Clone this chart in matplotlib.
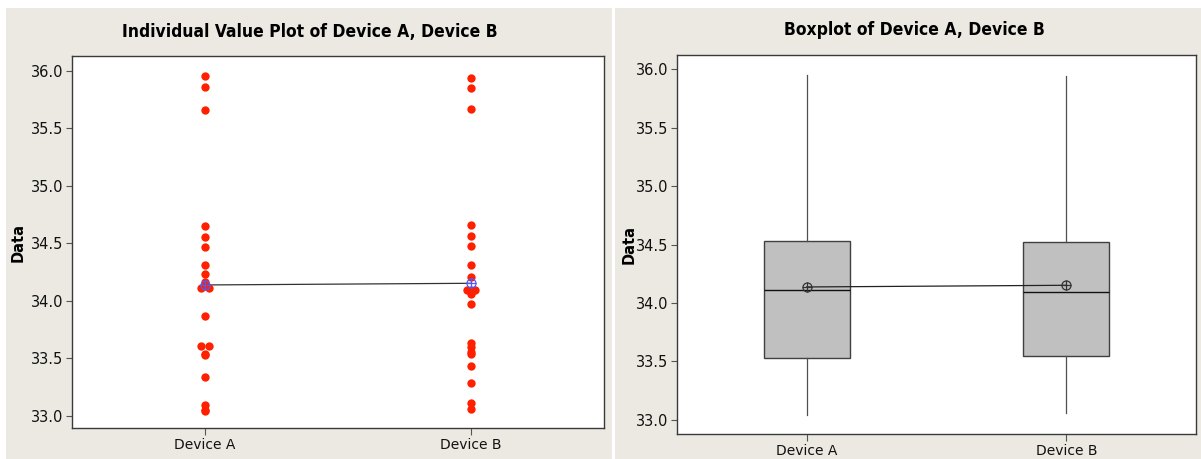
import matplotlib
matplotlib.use("Agg")
import matplotlib.pyplot as plt
from matplotlib.patches import Rectangle
import numpy as np

# Measurements for the two devices
devices = ["Device A", "Device B"]
device_a = [33.04, 33.05, 33.09, 33.34, 33.53, 33.54, 33.61, 33.61, 33.87, 34.11,
            34.11, 34.16, 34.23, 34.31, 34.47, 34.55, 34.65, 35.66, 35.86, 35.95]
device_b = [33.06, 33.11, 33.28, 33.43, 33.54, 33.55, 33.60, 33.63, 33.97, 34.06,
            34.09, 34.09, 34.09, 34.21, 34.31, 34.48, 34.56, 34.66, 35.67, 35.85, 35.94]
yticks = [33.0, 33.5, 34.0, 34.5, 35.0, 35.5, 36.0]

bg = "#ECE9E2"
dot_red = "#FF2000"
spine_col = "#3a3a3a"

plt.rcParams['font.family'] = ['DejaVu Sans']

fig = plt.figure(figsize=(12.01, 4.59), dpi=100, facecolor="white")
# two beige graph windows
fig.patches.append(Rectangle((6 / 1201, 0), 606 / 1201, 451 / 459,
                             transform=fig.transFigure, facecolor=bg, edgecolor="none", zorder=-5))
fig.patches.append(Rectangle((615 / 1201, 0), 586 / 1201, 451 / 459,
                             transform=fig.transFigure, facecolor=bg, edgecolor="none", zorder=-5))

ax1 = fig.add_axes([72 / 1201, 1 - 428 / 459, 532 / 1201, 372 / 459])
ax2 = fig.add_axes([677 / 1201, 1 - 434 / 459, 519 / 1201, 379 / 459])


def tie_offsets(vals, half_width=0.0158):
    # spread exactly tied values side by side within a fixed band
    vals = np.asarray(vals)
    off = np.zeros(len(vals))
    for v in np.unique(vals):
        idx = np.where(vals == v)[0]
        if len(idx) > 1:
            off[idx] = np.linspace(-half_width, half_width, len(idx))
    return off


def minitab_stats(vals):
    x = np.sort(np.asarray(vals))
    n = len(x)

    def q(p):
        pos = p * (n + 1) - 1
        lo = int(np.floor(pos))
        frac = pos - lo
        if frac == 0:
            return x[lo]
        return x[lo] + frac * (x[lo + 1] - x[lo])

    q1, med, q3 = q(0.25), q(0.5), q(0.75)
    iqr = q3 - q1
    whislo = x[x >= q1 - 1.5 * iqr].min()
    whishi = x[x <= q3 + 1.5 * iqr].max()
    return dict(q1=q1, med=med, q3=q3, whislo=whislo, whishi=whishi, fliers=[])


data = [device_a, device_b]
pos = [1, 2]
means = [np.mean(d) for d in data]

# individual value plot
for p, d in zip(pos, data):
    ax1.plot(p + tie_offsets(d), d, "o", color=dot_red, markersize=6.0,
             markeredgewidth=0, zorder=3)
ax1.plot(pos, means, "-", color="#333333", lw=0.9, zorder=2)
ax1.plot(pos, means, "o", markersize=6.5, markerfacecolor="none",
         markeredgecolor="#4A5CFF", markeredgewidth=0.9, zorder=4)
ax1.plot(pos, means, "+", markersize=6.5, color="#4A5CFF", markeredgewidth=0.9, zorder=4)

# boxplot
stats = [minitab_stats(d) for d in data]
ax2.bxp(stats, positions=pos, widths=0.33, showcaps=False, patch_artist=True,
        boxprops=dict(facecolor="#C0C0C0", edgecolor="#404040", linewidth=1.0),
        whiskerprops=dict(color="#505050", linewidth=0.9),
        medianprops=dict(color="#111111", linewidth=1.0))
ax2.plot(pos, means, "-", color="#222222", lw=0.9, zorder=3)
ax2.plot(pos, means, "o", markersize=6.5, markerfacecolor="none",
         markeredgecolor="#333333", markeredgewidth=0.9, zorder=4)
ax2.plot(pos, means, "+", markersize=6.5, color="#333333", markeredgewidth=0.9, zorder=4)

ylims = [(32.893, 36.128), (32.88, 36.12)]
label_pads = [4, 0]
for ax, yl, lp in zip([ax1, ax2], ylims, label_pads):
    ax.set_facecolor("white")
    ax.set_xlim(0.5, 2.5)
    ax.set_ylim(*yl)
    ax.set_yticks(yticks)
    ax.set_yticklabels([f"{v:.1f}" for v in yticks])
    ax.set_xticks(pos)
    ax.set_xticklabels(devices)
    ax.tick_params(axis="both", direction="out", length=4, width=0.8,
                   color="#555555", labelsize=10.5, labelcolor="#111111", pad=2)
    ax.tick_params(axis="x", length=5, pad=2, labelsize=10)
    for s in ax.spines.values():
        s.set_color(spine_col)
        s.set_linewidth(1.0)
    ax.set_ylabel("Data", fontsize=10.5, fontweight="bold", labelpad=lp)

# titles centred over each graph window
fig.text(310 / 1201, 1 - 32 / 459, "Individual Value Plot of Device A, Device B",
         ha="center", va="center", fontsize=12.5, fontweight="bold", fontstretch="condensed")
fig.text(914 / 1201, 1 - 30 / 459, "Boxplot of Device A, Device B",
         ha="center", va="center", fontsize=12.5, fontweight="bold", fontstretch="condensed")

fig.savefig("out.png", dpi=100, facecolor=fig.get_facecolor())
